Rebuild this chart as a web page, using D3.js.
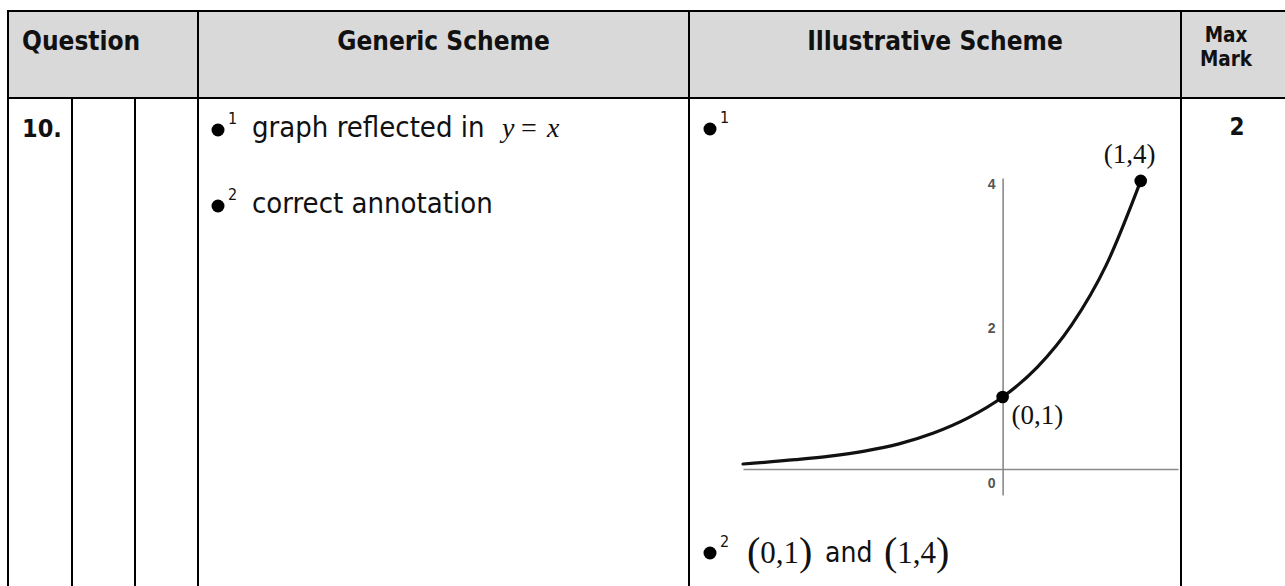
<!DOCTYPE html>
<html>
<head>
<meta charset="utf-8">
<script src="https://cdn.jsdelivr.net/npm/d3@7"></script>
<style>
  body { margin: 0; background: #fff; }
  svg { display: block; }
</style>
</head>
<body>
<div id="chart"></div>
<script>
var svgWidth = 1285;
var svgHeight = 586;

// table text
var headerLabels = ["Question", "Generic Scheme", "Illustrative Scheme"];
var maxMarkLabel = ["Max", "Mark"];
var questionNumber = "10.";
var maxMark = "2";
var genericLines = ["graph reflected in", "correct annotation"];

// curve (x, y in graph units)
var curveX = [-1.88, -1.5, -1.25, -1, -0.75, -0.5, -0.25, 0, 0.25, 0.5, 0.75, 1];
var curveY = [0.07, 0.13, 0.18, 0.25, 0.35, 0.5, 0.71, 1, 1.41, 2, 2.83, 4];

// annotated points
var pointX = [0, 1];
var pointY = [1, 4];
var pointLabels = ["(0,1)", "(1,4)"];

// y axis tick labels
var yTicks = [0, 2, 4];

var boldFont = "'DejaVu Sans Condensed', 'DejaVu Sans', sans-serif";
var textFont = "'DejaVu Sans Condensed', 'DejaVu Sans', sans-serif";
var mathFont = "'Liberation Serif', 'Times New Roman', serif";

var svg = d3.select("#chart")
  .append("svg")
  .attr("width", svgWidth)
  .attr("height", svgHeight);

svg.append("rect")
  .attr("width", svgWidth)
  .attr("height", svgHeight)
  .attr("fill", "#fff");

// ---- table grid ----
var tableTop = 11, headerBottom = 98;
var colX = [8, 72, 135, 198, 689, 1181];

svg.append("rect")
  .attr("x", colX[0])
  .attr("y", tableTop)
  .attr("width", svgWidth - colX[0])
  .attr("height", headerBottom - tableTop)
  .attr("fill", "#d9d9d9");

var grid = svg.append("g")
  .attr("stroke", "#000")
  .attr("stroke-width", 2);

grid.append("line")
  .attr("x1", colX[0] - 1).attr("x2", svgWidth)
  .attr("y1", tableTop).attr("y2", tableTop);
grid.append("line")
  .attr("x1", colX[0] - 1).attr("x2", svgWidth)
  .attr("y1", headerBottom).attr("y2", headerBottom);

colX.forEach(function(x, i) {
  // the two inner question columns only start below the header
  var top = (i === 1 || i === 2) ? headerBottom : tableTop;
  grid.append("line")
    .attr("x1", x).attr("x2", x)
    .attr("y1", top).attr("y2", svgHeight);
});

// ---- header text ----
var header = svg.append("g")
  .attr("font-family", boldFont)
  .attr("font-weight", "bold")
  .attr("font-size", 26)
  .attr("fill", "#111");

header.append("text")
  .attr("x", 22).attr("y", 50)
  .text(headerLabels[0]);
header.append("text")
  .attr("x", (colX[3] + colX[4]) / 2).attr("y", 50)
  .attr("text-anchor", "middle")
  .text(headerLabels[1]);
header.append("text")
  .attr("x", (colX[4] + colX[5]) / 2).attr("y", 50)
  .attr("text-anchor", "middle")
  .text(headerLabels[2]);

header.selectAll(".mm")
  .data(maxMarkLabel)
  .enter()
  .append("text")
  .attr("class", "mm")
  .attr("x", 1226)
  .attr("y", (d, i) => 42 + i * 24)
  .attr("text-anchor", "middle")
  .attr("font-size", 20.5)
  .text(d => d);

// ---- body text ----
svg.append("text")
  .attr("x", 22).attr("y", 137)
  .attr("font-family", boldFont)
  .attr("font-weight", "bold")
  .attr("font-size", 25)
  .attr("fill", "#111")
  .text(questionNumber);

svg.append("text")
  .attr("x", 1237).attr("y", 135)
  .attr("text-anchor", "middle")
  .attr("font-family", boldFont)
  .attr("font-weight", "bold")
  .attr("font-size", 24)
  .attr("fill", "#111")
  .text(maxMark);

// bullet with superscript number
function bullet(cx, baseline, num) {
  svg.append("circle")
    .attr("cx", cx)
    .attr("cy", baseline - 7)
    .attr("r", 6.5)
    .attr("fill", "#000");
  svg.append("text")
    .attr("x", cx + 10)
    .attr("y", baseline - 13)
    .attr("font-family", textFont)
    .attr("font-size", 16)
    .attr("fill", "#111")
    .text(num);
}

var lineBase = [137, 213];
genericLines.forEach(function(t, i) {
  bullet(218, lineBase[i], i + 1);
  svg.append("text")
    .attr("x", 252).attr("y", lineBase[i])
    .attr("font-family", textFont)
    .attr("font-size", 29)
    .attr("fill", "#111")
    .text(t);
});

// y = x
var yx = svg.append("text")
  .attr("y", 137)
  .attr("font-family", mathFont)
  .attr("font-size", 28)
  .attr("fill", "#111");
yx.append("tspan").attr("x", 502).attr("font-style", "italic").text("y");
yx.append("tspan").attr("x", 521).text("=");
yx.append("tspan").attr("x", 547).attr("font-style", "italic").text("x");

bullet(710, 136, 1);

// ---- illustrative graph ----
var x = d3.scaleLinear()
  .domain([-1.88, 1.27])
  .range([743, 1178]);

var y = d3.scaleLinear()
  .domain([-0.36, 4.04])
  .range([495, 178]);

var axisColor = "#8a8a8a";

var xAxis = svg.append("g")
  .attr("transform", `translate(0, ${y(0)})`)
  .call(d3.axisBottom(x).tickValues([]).tickSizeOuter(0));
xAxis.select(".domain").attr("stroke", axisColor).attr("stroke-width", 1.6);

var yAxis = svg.append("g")
  .attr("transform", `translate(${x(0)}, 0)`)
  .call(d3.axisLeft(y).tickValues(yTicks).tickFormat(d3.format("d")).tickSize(0).tickPadding(7));
yAxis.select(".domain").attr("stroke", axisColor).attr("stroke-width", 1.6);
yAxis.selectAll("text")
  .attr("font-family", "'Liberation Sans', Arial, sans-serif")
  .attr("font-size", 14)
  .attr("font-weight", "bold")
  .attr("fill", "#555")
  .attr("dy", d => d === 0 ? "1.3em" : "0.55em");

var curveData = curveX.map((d, i) => [d, curveY[i]]);

var line = d3.line()
  .x(d => x(d[0]))
  .y(d => y(d[1]))
  .curve(d3.curveMonotoneX);

svg.append("path")
  .datum(curveData)
  .attr("d", line)
  .attr("fill", "none")
  .attr("stroke", "#111")
  .attr("stroke-width", 3.2)
  .attr("stroke-linecap", "round");

var points = pointX.map((d, i) => ({ x: d, y: pointY[i], label: pointLabels[i] }));

svg.selectAll(".pt")
  .data(points)
  .enter()
  .append("circle")
  .attr("class", "pt")
  .attr("cx", d => x(d.x))
  .attr("cy", d => y(d.y))
  .attr("r", 6.3)
  .attr("fill", "#000");

svg.selectAll(".ptlabel")
  .data(points)
  .enter()
  .append("text")
  .attr("class", "ptlabel")
  .attr("x", d => d.x === 0 ? x(d.x) + 9 : x(d.x) - 11)
  .attr("y", d => d.x === 0 ? y(d.y) + 27 : y(d.y) - 18)
  .attr("text-anchor", d => d.x === 0 ? "start" : "middle")
  .attr("font-family", mathFont)
  .attr("font-size", 27)
  .attr("fill", "#111")
  .text(d => d.label);

// ---- bottom annotation ----
bullet(710, 560, 2);

function mathPair(xPos, label) {
  var inner = label.slice(1, -1);
  var t = svg.append("text")
    .attr("x", xPos)
    .attr("y", 563)
    .attr("font-family", mathFont)
    .attr("fill", "#111");
  t.append("tspan").attr("font-size", 40).attr("dy", 2).text("(");
  t.append("tspan").attr("font-size", 31).attr("dy", -2).text(inner);
  t.append("tspan").attr("font-size", 40).attr("dy", 2).text(")");
}

mathPair(747, pointLabels[0]);
svg.append("text")
  .attr("x", 825).attr("y", 562)
  .attr("font-family", textFont)
  .attr("font-size", 28)
  .attr("fill", "#111")
  .text("and");
mathPair(884, pointLabels[1]);
</script>
</body>
</html>
